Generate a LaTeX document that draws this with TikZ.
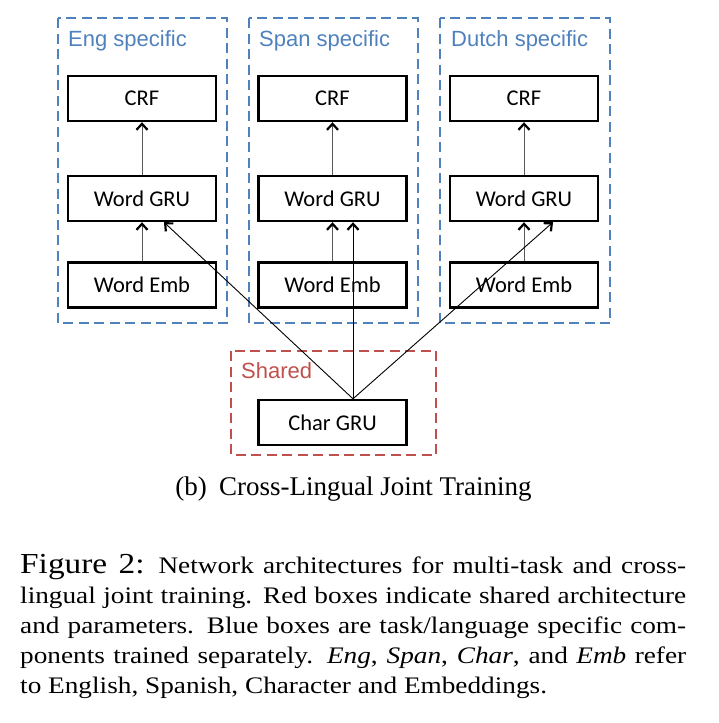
\documentclass[tikz,border=0pt]{standalone}
\usepackage{fontspec}
\setmainfont{Liberation Serif}
\newfontfamily\capfont[FakeStretch=1.15]{Liberation Serif}
\newfontfamily\boxfont{Carlito}
\newfontfamily\labfont{Liberation Sans}
\usetikzlibrary{arrows.meta,calc}
\definecolor{blu}{RGB}{79,129,189}
\definecolor{rd}{RGB}{192,80,77}
\begin{document}
\begin{tikzpicture}[x=1pt,y=-1pt,
  comp/.style={draw,line width=2.4pt,minimum width=148pt,minimum height=45pt,inner sep=0pt,
    font=\boxfont\fontsize{22.5}{26}\selectfont},
  region/.style={line width=2.6pt,dash pattern=on 10pt off 5.5pt},
  lab/.style={anchor=base west,inner sep=0pt,font=\labfont\fontsize{22}{26}\selectfont},
  arr/.style={-{Straight Barb[length=6pt,width=11pt,line width=2.2pt,color=black]},line width=0.9pt},
  varr/.style={arr,draw=black!65},
  capline/.style={anchor=base west,inner sep=0pt,font=\capfont\fontsize{23.7}{30}\selectfont}
]
\useasboundingbox (0,0) rectangle (719,723);

% regions
\draw[region,blu] (58,18) rectangle (227,323);
\draw[region,blu] (249,18) rectangle (418,323);
\draw[region,blu] (440,18) rectangle (610,323);
\draw[region,rd] (231,351) rectangle (436,455);

\node[lab,text=blu] (lE) at (68,46) {Eng specific};
\node[lab,text=blu] (lS) at (259,46) {Span specific};
\node[lab,text=blu] (lD) at (451,46) {Dutch specific};
\node[lab,text=rd] (lSh) at (241,378) {Shared};

% components
\foreach \c/\x in {E/142,S/332.5,D/524}{
  \node[comp] (crf\c) at (\x,98.5) {CRF};
  \node[comp] (wg\c) at (\x,198.5) {Word GRU};
  \node[comp] (we\c) at (\x,285) {Word Emb};
  \draw[varr] (wg\c.north) -- (crf\c.south);
  \draw[varr] (we\c.north) -- (wg\c.south);
}
\node[comp] (char) at (332.5,422.5) {Char GRU};

\coordinate (src) at ($(char.north)+(20.5,0)$);
\coordinate (tE) at ($(wgE.south)+(22,0)$);
\coordinate (tS) at ($(wgS.south)+(20.5,0)$);
\coordinate (tD) at ($(wgD.south)+(29,0)$);
\draw[arr] (src) -- (tE);
\draw[arr] (src) -- (tS);
\draw[arr] (src) -- (tD);

% subcaption
\node[anchor=base,inner sep=0pt,font=\fontsize{27}{32}\selectfont] (sub) at (353.5,495)
  {(b)\hspace{0.45em}Cross-Lingual Joint Training};

% figure caption
\node[capline] (c1) at (20,573) {\makebox[666pt][s]{{\fontsize{29}{30}\selectfont Figure 2:} Network architectures for multi-task and cross-}};
\node[capline] (c2) at (20,603) {\makebox[666pt][s]{lingual joint training. Red boxes indicate shared architecture}};
\node[capline] (c3) at (20,633) {\makebox[666pt][s]{and parameters. Blue boxes are task/language specific com-}};
\node[capline] (c4) at (20,663) {\makebox[666pt][s]{ponents trained separately. \textit{Eng}, \textit{Span}, \textit{Char}, and \textit{Emb} refer}};
\node[capline] (c5) at (20,693) {to English, Spanish, Character and Embeddings.};
\end{tikzpicture}
\end{document}
